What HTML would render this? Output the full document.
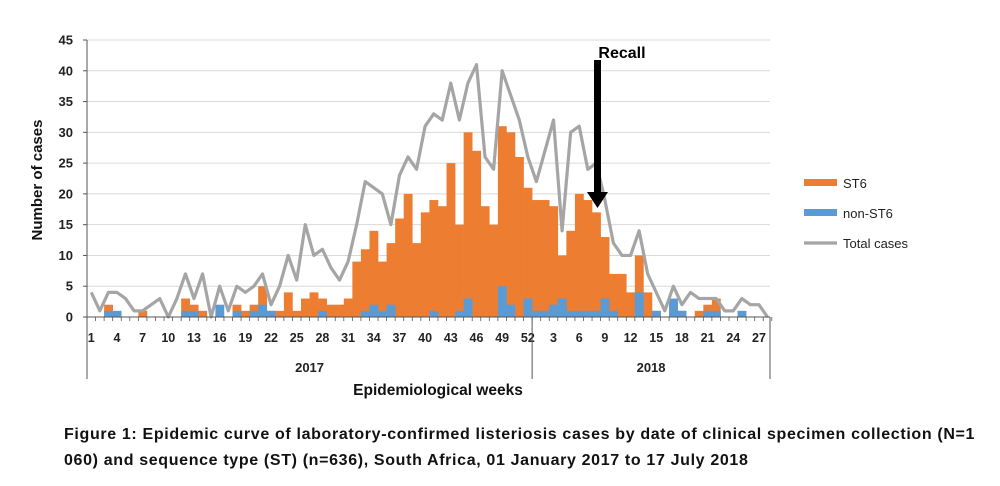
<!DOCTYPE html>
<html><head><meta charset="utf-8"><style>
body{margin:0;background:#fff;width:1000px;height:486px;overflow:hidden;font-family:"Liberation Sans",sans-serif}
.cap{position:absolute;left:64px;font-weight:bold;font-size:16px;letter-spacing:0.65px;color:#111;white-space:nowrap}
</style></head><body>
<svg id="chart" width="1000" height="400" style="position:absolute;left:0;top:0" font-family="Liberation Sans, sans-serif"></svg>
<div class="cap" style="top:426px">Figure 1: Epidemic curve of laboratory-confirmed listeriosis cases by date of clinical specimen collection (N=1</div>
<div class="cap" style="top:452px">060) and sequence type (ST) (n=636), South Africa, 01 January 2017 to 17 July 2018</div>
<script>
const weekLabels=["1","4","7","10","13","16","19","22","25","28","31","34","37","40","43","46","49","52","3","6","9","12","15","18","21","24","27"];
const yTicks=[0,5,10,15,20,25,30,35,40,45];
// 80 weeks: 2017 w1-52, 2018 w1-28
const st6=[0,0,2,0,0,0,1,0,0,0,0,3,2,1,0,0,0,2,1,2,5,1,1,4,1,3,4,3,2,2,3,9,11,14,9,12,16,20,12,17,19,18,25,15,30,27,18,15,31,30,26,21,
19,19,18,10,14,20,19,17,13,7,7,4,10,4,1,0,2,1,0,1,2,3,0,0,0,0,0,0];
const nonST6=[0,0,1,1,0,0,0,0,0,0,0,1,1,0,0,2,0,1,0,1,2,1,0,0,0,0,0,1,0,0,0,0,1,2,1,2,0,0,0,0,1,0,0,1,3,0,0,0,5,2,0,3,
1,1,2,3,1,1,1,1,3,1,0,0,4,0,1,0,3,1,0,0,1,1,0,0,1,0,0,0];
const total=[4,1,4,4,3,1,1,2,3,0,3,7,3,7,0,5,1,5,4,5,7,2,5,10,6,15,10,11,8,6,9,15,22,21,20,15,23,26,24,31,33,32,38,32,38,41,26,24,40,36,32,26,
22,27,32,14,30,31,24,25,19,12,10,10,14,7,4,1,5,2,4,3,3,3,1,1,3,2,2,0];
const NS="http://www.w3.org/2000/svg";
const svg=document.getElementById('chart');
const X0=87,BW=8.56,Y0=317,YS=277/45;
const xL=i=>X0+i*BW, xC=i=>X0+(i+0.5)*BW, y=v=>Y0-v*YS;
function mk(t,a,p){const e=document.createElementNS(NS,t);for(const k in a)e.setAttribute(k,a[k]);(p||svg).appendChild(e);return e;}
yTicks.forEach(v=>{
 if(v>0){const g=mk('line',{x1:X0,x2:770,y1:y(v),y2:y(v),stroke:'#d9d9d9','stroke-width':1});
 
 }
 mk('line',{x1:X0-4,x2:X0,y1:y(v),y2:y(v),stroke:'#555'});
 const t=mk('text',{x:73,y:y(v)+4.5,'text-anchor':'end','font-size':13,'font-weight':'bold',fill:'#222'});
 t.textContent=v;
 
 
});
st6.forEach((v,i)=>{if(v>0){const r=mk('rect',{x:xL(i),y:y(v),width:BW+0.3,height:v*YS,fill:'#ED7D31'});
 
 }});
nonST6.forEach((v,i)=>{if(v>0){const r=mk('rect',{x:xL(i),y:y(v),width:BW+0.3,height:v*YS,fill:'#5B9BD5'});
 
 }});
const ln=mk('polyline',{points:total.map((v,i)=>xC(i)+','+y(v)).join(' '),fill:'none',stroke:'#A5A5A5','stroke-width':3.2,'stroke-linejoin':'round'});


mk('line',{x1:X0,x2:X0,y1:40,y2:Y0,stroke:'#555'});
mk('line',{x1:X0,x2:770,y1:Y0,y2:Y0,stroke:'#555'});
for(let i=0;i<=80;i++)mk('line',{x1:xL(i),x2:xL(i),y1:Y0,y2:Y0+4,stroke:'#555','stroke-width':0.8});
weekLabels.forEach((l,k)=>{const i=k<18?k*3:52+(k-18)*3+2;
 const t=mk('text',{x:xC(i),y:342,'text-anchor':'middle','font-size':12.5,'font-weight':'bold',fill:'#222'});
 t.textContent=l;
 
 });
[X0,xL(52),770].forEach(xx=>mk('line',{x1:xx,x2:xx,y1:Y0,y2:379,stroke:'#555'}));
const yr=[['2017',(X0+xL(52))/2],['2018',(xL(52)+770)/2]];
yr.forEach(([s,xx])=>{const t=mk('text',{x:xx,y:372,'text-anchor':'middle','font-size':13,'font-weight':'bold',fill:'#222'});t.textContent=s;
 
 });
let t=mk('text',{x:438,y:395,'text-anchor':'middle','font-size':15.5,'font-weight':'bold',fill:'#111'});t.textContent='Epidemiological weeks';

t=mk('text',{x:0,y:0,transform:'translate(42,180) rotate(-90)','text-anchor':'middle','font-size':15,'font-weight':'bold',fill:'#111'});t.textContent='Number of cases';

t=mk('text',{x:622,y:58,'text-anchor':'middle','font-size':16,'font-weight':'bold',fill:'#000'});t.textContent='Recall';

const ar=mk('polygon',{points:'594,60 601,60 601,192 608,192 597.5,208 587,192 594,192',fill:'#000'});

const lg=[['ST6','#ED7D31',183,'rect'],['non-ST6','#5B9BD5',213,'rect'],['Total cases','#A5A5A5',243,'line']];
lg.forEach(([s,c,yy,k])=>{
 if(k==='rect')mk('rect',{x:804,y:yy-4,width:33,height:7,fill:c});else mk('line',{x1:804,x2:837,y1:yy,y2:yy,stroke:c,'stroke-width':3.2});
 const tt=mk('text',{x:843,y:yy+5,'font-size':13,fill:'#222'});tt.textContent=s;
 
 });
</script>
</body></html>
